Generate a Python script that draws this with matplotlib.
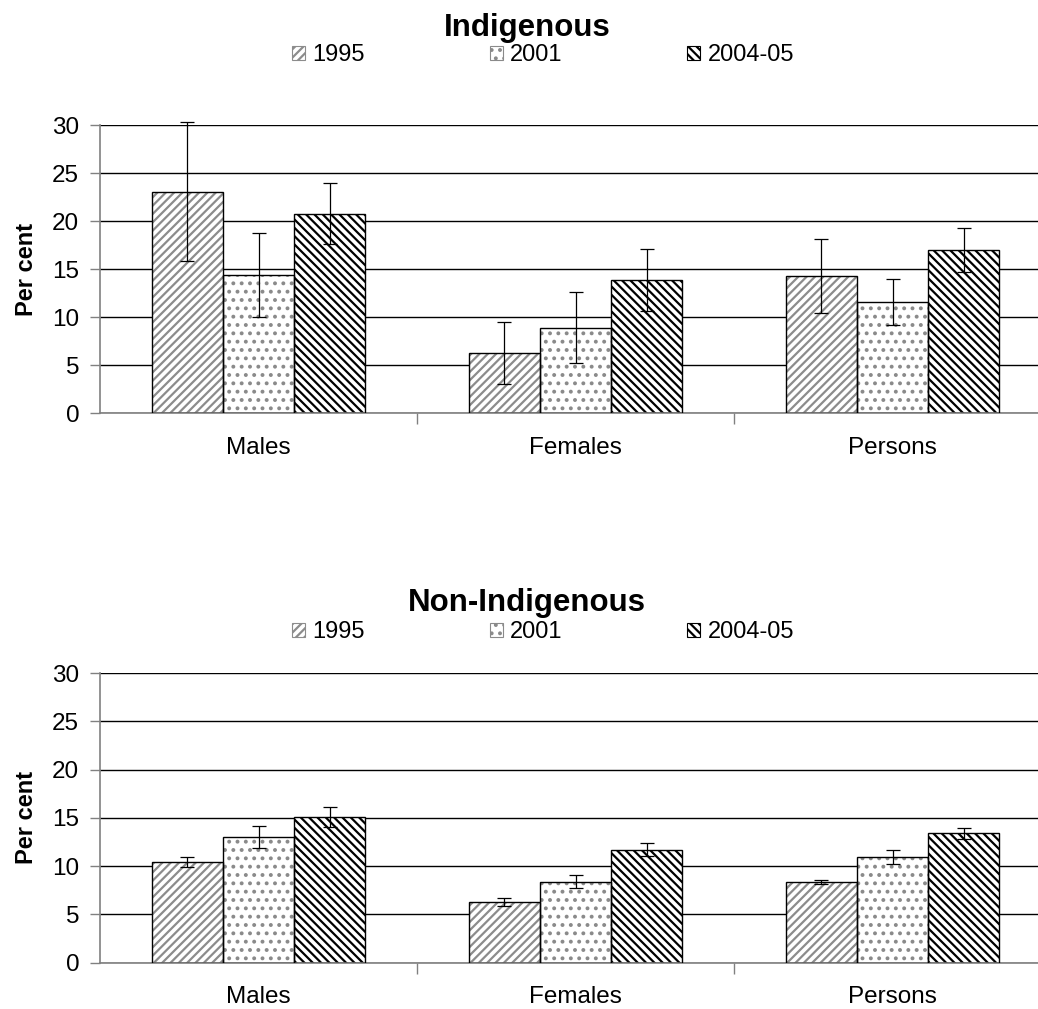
import numpy as np
import matplotlib
matplotlib.use("Agg")
import matplotlib.pyplot as plt
import matplotlib.patches as mpatches

plt.rcParams['font.family'] = ['Liberation Sans', 'DejaVu Sans']
plt.rcParams['hatch.linewidth'] = 1.6

categories = ["Males", "Females", "Persons"]
series = ["1995", "2001", "2004-05"]

ind_1995 = [23.1, 6.3, 14.3]
ind_2001 = [14.4, 8.9, 11.6]
ind_2005 = [20.8, 13.9, 17.05]
ind_err_1995 = [7.2, 3.2, 3.85]
ind_err_2001 = [4.35, 3.7, 2.4]
ind_err_2005 = [3.15, 3.2, 2.3]

non_1995 = [10.45, 6.3, 8.4]
non_2001 = [13.05, 8.4, 10.9]
non_2005 = [15.1, 11.7, 13.4]
non_err_1995 = [0.5, 0.42, 0.2]
non_err_2001 = [1.15, 0.7, 0.73]
non_err_2005 = [1.0, 0.7, 0.6]

styles = [
    dict(hatch='////', hcolor='#8c8c8c'),
    dict(hatch='..', hcolor='#8a8a8a'),
    dict(hatch='\\\\\\\\', hcolor='#000000'),
]

W, H = 1038, 1009
fig = plt.figure(figsize=(W / 100, H / 100), dpi=100)

def fx(px):
    return px / W

def fy(py):
    return 1 - py / H

ax_top = fig.add_axes([fx(100), fy(413.3), 1 - fx(100), fy(125.3) - fy(413.3)])
ax_bot = fig.add_axes([fx(100), fy(962.7), 1 - fx(100), fy(673) - fy(962.7)])

w = 0.224
x = np.arange(len(categories))

def draw(ax, vals, errs):
    for i, (v, e, st) in enumerate(zip(vals, errs, styles)):
        xi = x + (i - 1) * w
        ax.bar(xi, v, w, color='white', edgecolor=st['hcolor'], hatch=st['hatch'],
               linewidth=0, zorder=2)
        ax.bar(xi, v, w, fill=False, edgecolor='black', linewidth=1.0, zorder=3)
        eb = ax.errorbar(xi, v, yerr=e, fmt='none', ecolor='black', elinewidth=0.9,
                         capsize=5, capthick=0.9, zorder=4)
        for art in eb.lines[1] + eb.lines[2]:
            art.set_clip_on(False)
    ax.set_xlim(-0.5, -0.5 + 938 / 317)
    ax.set_ylim(0, 30)
    ax.set_yticks(np.arange(0, 31, 5))
    ax.yaxis.grid(True, color='black', linewidth=1.0)
    ax.set_axisbelow(True)
    ax.set_xticks(x)
    ax.set_xticklabels(categories)
    ax.set_xticks([0.5, 1.5], minor=True)
    ax.tick_params(axis='x', which='major', length=0, pad=17, labelsize=17.5)
    ax.tick_params(axis='x', which='minor', length=8, width=1, color='#808080', direction='out')
    ax.tick_params(axis='y', length=7, width=1, color='#808080', pad=8, labelsize=17.5)
    for s in ['top', 'right']:
        ax.spines[s].set_visible(False)
    ax.spines['left'].set_color('#808080')
    ax.spines['bottom'].set_color('#808080')
    ax.spines['left'].set_linewidth(1.2)
    ax.spines['bottom'].set_linewidth(1.2)
    ax.set_ylabel("Per cent", fontsize=17, fontweight='bold')
    ax.yaxis.set_label_coords(-0.066, 0.5)

draw(ax_top, [ind_1995, ind_2001, ind_2005], [ind_err_1995, ind_err_2001, ind_err_2005])
draw(ax_bot, [non_1995, non_2001, non_2005], [non_err_1995, non_err_2001, non_err_2005])

fig.text(fx(527), fy(28), "Indigenous", ha='center', va='center', fontsize=22.5, fontweight='bold')
fig.text(fx(527), fy(603), "Non-Indigenous", ha='center', va='center', fontsize=22.5, fontweight='bold')

def legend(ycenter):
    handles = [mpatches.Patch(facecolor='white', edgecolor=st['hcolor'], hatch=st['hatch'],
                              linewidth=0.8) for st in styles]
    fig.legend(handles, series, ncol=3, loc='center', bbox_to_anchor=(fx(543), fy(ycenter)),
               frameon=False, fontsize=17, handlelength=0.55, handleheight=0.55,
               handletextpad=0.3, columnspacing=5.3, borderaxespad=0)

legend(55)
legend(632)

fig.savefig("out.png", dpi=100)
